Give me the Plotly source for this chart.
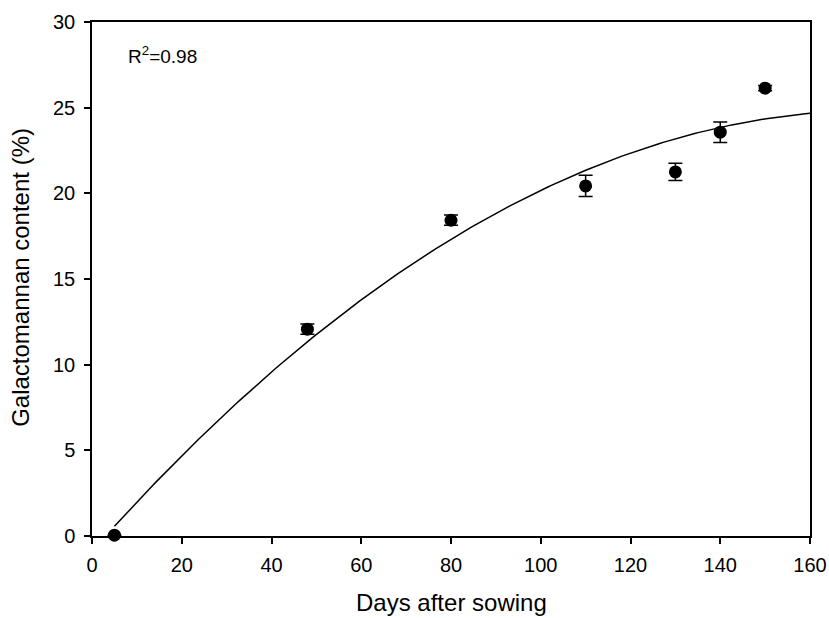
import numpy as np
import plotly.graph_objects as go

days = [5, 48, 80, 110, 130, 140, 150]
galactomannan = [0.05, 12.07, 18.43, 20.43, 21.25, 23.57, 26.14]
sem = [0.0, 0.3, 0.3, 0.62, 0.5, 0.6, 0.15]

x_ticks = [0, 20, 40, 60, 80, 100, 120, 140, 160]
y_ticks = [0, 5, 10, 15, 20, 25, 30]
r2_label = "R<sup>2</sup>=0.98"
x_title = "Days after sowing"
y_title = "Galactomannan content (%)"

# second-order polynomial regression of the measured points
coef = np.polyfit(days, galactomannan, 2)
fit_x = np.linspace(min(days), 160, 200)
fit_y = np.polyval(coef, fit_x)

FONT = "Liberation Sans, Arial, sans-serif"

fig = go.Figure()
fig.add_trace(go.Scatter(
    x=fit_x, y=fit_y, mode="lines",
    line=dict(color="black", width=1.5),
    hoverinfo="skip", showlegend=False, cliponaxis=False))
fig.add_trace(go.Scatter(
    x=days, y=galactomannan, mode="markers",
    marker=dict(color="black", size=13, symbol="circle"),
    error_y=dict(type="data", array=sem, visible=True,
                 color="black", thickness=1.5, width=7),
    showlegend=False, cliponaxis=False))

fig.add_annotation(x=7.6, y=28.05, xref="x", yref="y", text=r2_label,
                   showarrow=False, xanchor="left", yanchor="middle",
                   font=dict(family=FONT, size=19, color="black"))
fig.add_annotation(x=0.5, y=-0.129, xref="paper", yref="paper", text=x_title,
                   showarrow=False, xanchor="center", yanchor="middle",
                   font=dict(family=FONT, size=24, color="black"))
fig.add_annotation(x=-0.099, y=0.504, xref="paper", yref="paper", text=y_title,
                   showarrow=False, xanchor="center", yanchor="middle",
                   textangle=-90,
                   font=dict(family=FONT, size=24, color="black"))

axis_common = dict(showgrid=False, zeroline=False, showline=True,
                   linecolor="black", linewidth=1.5, mirror=True,
                   ticks="outside", ticklen=6, tickwidth=1.5, tickcolor="black",
                   automargin=False,
                   tickfont=dict(family=FONT, size=20, color="black"))

fig.update_xaxes(range=[0, 160], tickvals=x_ticks, ticklabelstandoff=4,
                 **axis_common)
fig.update_yaxes(range=[0, 30], tickvals=y_ticks, ticklabelstandoff=5,
                 **axis_common)

fig.update_layout(width=829, height=618,
                  margin=dict(l=92, r=19, t=22, b=82),
                  plot_bgcolor="white", paper_bgcolor="white",
                  font=dict(family=FONT, color="black"))

fig.write_html("out.html",
               config={"displayModeBar": False},
               post_script="document.body.style.margin='0';"
                           "document.body.style.overflow='hidden';")
